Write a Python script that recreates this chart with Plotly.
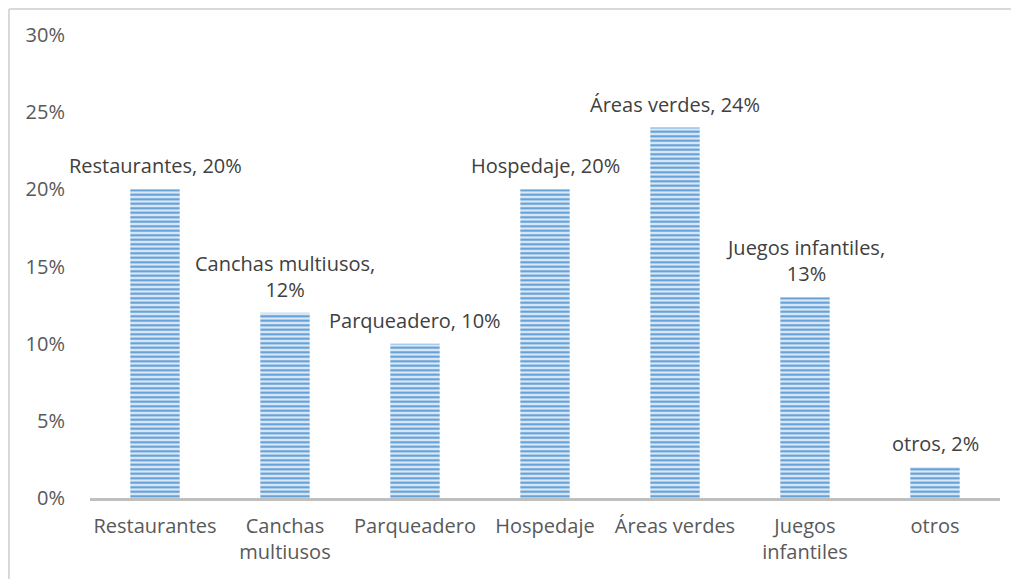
import plotly.graph_objects as go

# data
categorias = ["Restaurantes", "Canchas multiusos", "Parqueadero", "Hospedaje",
              "Áreas verdes", "Juegos infantiles", "otros"]
etiquetas_eje = ["Restaurantes", "Canchas<br>multiusos", "Parqueadero", "Hospedaje",
                 "Áreas verdes", "Juegos<br>infantiles", "otros"]
etiquetas_dato = ["Restaurantes, 20%", "Canchas multiusos,<br>12%", "Parqueadero, 10%",
                  "Hospedaje, 20%", "Áreas verdes, 24%", "Juegos infantiles,<br>13%",
                  "otros, 2%"]
valores = [0.20, 0.12, 0.10, 0.20, 0.24, 0.13, 0.02]

FONT = "'Open Sans', sans-serif"

fig = go.Figure()
fig.add_trace(go.Bar(
    x=categorias, y=valores,
    width=0.38,
    marker=dict(
        color="#c9def2",
        line=dict(width=0),
        pattern=dict(shape="-", fgcolor="#5b9bd5", bgcolor="#dbe8f6",
                     size=4.5, solidity=0.45, fillmode="replace"),
    ),
))

# data labels above bars
for cat, val, txt in zip(categorias, valores, etiquetas_dato):
    fig.add_annotation(x=cat, y=val, text=txt, showarrow=False,
                       yanchor="bottom", yshift=8,
                       font=dict(family=FONT, size=20, color="#404040"))

fig.update_layout(
    width=1011, height=571,
    margin=dict(l=82, r=19, t=27, b=81),
    paper_bgcolor="white", plot_bgcolor="white",
    showlegend=False,
    font=dict(family=FONT, size=20, color="#595959"),
)
fig.update_xaxes(
    range=[-0.5, 6.5],
    tickvals=categorias, ticktext=etiquetas_eje,
    showline=True, linecolor="#bfbfbf", linewidth=3,
    showgrid=False, ticks="", ticklabelstandoff=8,
    tickfont=dict(size=20, color="#595959"),
)
fig.update_yaxes(
    range=[0, 0.30], dtick=0.05, tickformat=".0%",
    showgrid=False, zeroline=False, showline=False,
    ticks="outside", ticklen=20, tickcolor="rgba(0,0,0,0)",
    tickfont=dict(size=20, color="#595959"),
)

# chart border (left and top visible)
fig.add_shape(type="line", xref="paper", yref="paper",
              x0=-0.0890, x1=-0.0890, y0=-0.2, y1=1.056,
              line=dict(color="#d9d9d9", width=2))
fig.add_shape(type="line", xref="paper", yref="paper",
              x0=-0.0890, x1=1.03, y0=1.056, y1=1.056,
              line=dict(color="#d9d9d9", width=2))

fig.write_html("out.html")
